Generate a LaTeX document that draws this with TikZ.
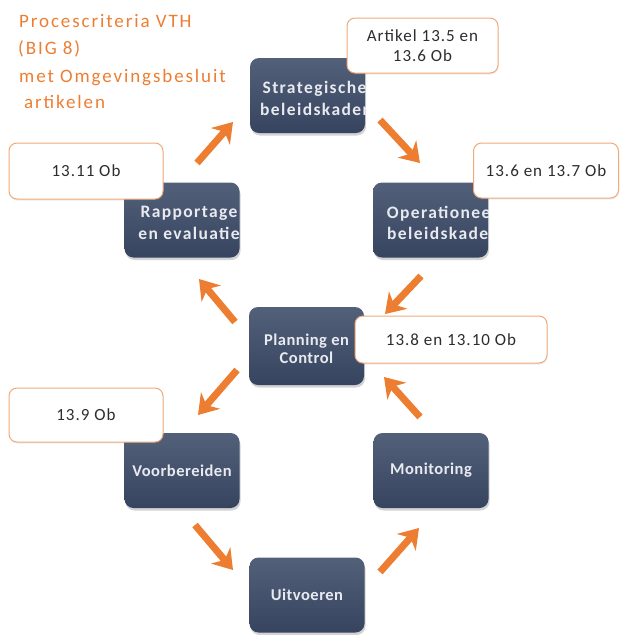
\documentclass[tikz,border=0pt]{standalone}
\usepackage{fontspec}
\setmainfont{Carlito}
\newfontfamily\titlefont[LetterSpace=10]{Carlito}
\newfontfamily\labelfont[LetterSpace=6]{Carlito}
\newfontfamily\boxfont[LetterSpace=3]{Carlito}
\newfontfamily\boxwidefont[LetterSpace=8]{Carlito}
\usetikzlibrary{arrows.meta,shadows}
\definecolor{vthorange}{RGB}{237,125,49}
\definecolor{boxtop}{RGB}{82,96,122}
\definecolor{boxbot}{RGB}{54,68,95}
\definecolor{boxtext}{RGB}{232,234,240}
\definecolor{labelborder}{RGB}{240,170,122}
\definecolor{labeltext}{RGB}{45,45,45}
\begin{document}
\begin{tikzpicture}[x=1pt,y=-1pt,
  darkbox/.style={rounded corners=9pt, minimum width=115pt, minimum height=75pt, inner sep=0pt,
    top color=boxtop, bottom color=boxbot, draw=none,
    drop shadow={shadow xshift=1pt, shadow yshift=-2.5pt, opacity=0.35}},
  boxlabel/.style={text=boxtext, align=center, inner sep=0pt,
    font=\boxfont\bfseries\fontsize{16.5}{18}\selectfont},
  widelabel/.style={boxlabel, font=\boxwidefont\bfseries\fontsize{17.5}{21.5}\selectfont},
  refbox/.style={rounded corners=8pt, fill=white, draw=labelborder, line width=1pt, inner sep=0pt,
    text=labeltext, align=center, font=\labelfont\fontsize{17}{20}\selectfont,
    drop shadow={shadow xshift=0.5pt, shadow yshift=-1.5pt, opacity=0.15}},
  flow/.style={draw=vthorange, line width=7pt, -{Stealth[length=19pt,width=25pt,inset=6pt]}},
  titleline/.style={anchor=base west, inner sep=0pt, text=vthorange,
    font=\titlefont\fontsize{19}{23}\selectfont},
]
\useasboundingbox (0,0) rectangle (621,635);

% title
\node[titleline] (t1) at (19,27) {Procescriteria VTH};
\node[titleline] (t2) at (18,54.5) {(BIG 8)};
\node[titleline] (t3) at (19,82) {met Omgevingsbesluit};
\node[titleline] (t4) at (24,108) {artikelen};

% process boxes
\node[darkbox] (strat) at (307.5,95.5) {};
\node[darkbox] (oper) at (430.5,220) {};
\node[darkbox] (rapp) at (182,220) {};
\node[darkbox, minimum height=78pt] (plan) at (306.5,346) {};
\node[darkbox] (voor) at (182,470.5) {};
\node[darkbox] (moni) at (431,470.5) {};
\node[darkbox] (uitv) at (307,595) {};

\begin{scope}
  \clip[rounded corners=9pt] (strat.south west) rectangle (strat.north east);
  \node[widelabel] (stratT) at ([xshift=7pt,yshift=-3pt]strat.center) {Strategische\\beleidskader};
\end{scope}
\begin{scope}
  \clip[rounded corners=9pt] (oper.south west) rectangle (oper.north east);
  \node[widelabel] (operT) at ([xshift=11pt,yshift=-3pt]oper.center) {Operationeel\\beleidskader};
\end{scope}
\begin{scope}
  \clip[rounded corners=9pt] (rapp.south west) rectangle (rapp.north east);
  \node[widelabel] (rappT) at ([xshift=7pt,yshift=-3pt]rapp.center) {Rapportage\\en evaluatie};
\end{scope}
\node[boxlabel] (planT) at ([yshift=-3pt]plan.center) {Planning en\\Control};
\node[boxlabel] (voorT) at (voor.center) {Voorbereiden};
\node[boxlabel] (moniT) at (moni.center) {Monitoring};
\node[boxlabel] (uitvT) at (uitv.center) {Uitvoeren};

% article labels
\node[refbox, minimum width=151pt, minimum height=55pt] (art) at (422.5,45.5) {Artikel 13.5 en\\13.6 Ob};
\node[refbox, minimum width=145pt, minimum height=55pt] (l1367) at (546,170.5) {13.6 en 13.7 Ob};
\node[refbox, minimum width=154pt, minimum height=56pt] (l1311) at (86,171) {13.11 Ob};
\node[refbox, minimum width=192pt, minimum height=47pt] (l1381) at (451,339.5) {13.8 en 13.10 Ob};
\node[refbox, minimum width=154pt, minimum height=54pt] (l139) at (86,415) {13.9 Ob};

% arrows
\coordinate (r2sA) at (197,163); \coordinate (r2sB) at (233,122);
\coordinate (s2oA) at (380,120); \coordinate (s2oB) at (420,163);
\coordinate (o2pA) at (421,276); \coordinate (o2pB) at (385,314);
\coordinate (m2pA) at (420,417); \coordinate (m2pB) at (384,377);
\coordinate (p2vA) at (237,370); \coordinate (p2vB) at (198,415);
\coordinate (p2rA) at (235,322); \coordinate (p2rB) at (199,279);
\coordinate (v2uA) at (195,525); \coordinate (v2uB) at (233,570);
\coordinate (u2mA) at (380,572); \coordinate (u2mB) at (419,528);
\draw[flow] (r2sA) -- (r2sB);
\draw[flow] (s2oA) -- (s2oB);
\draw[flow] (o2pA) -- (o2pB);
\draw[flow] (m2pA) -- (m2pB);
\draw[flow] (p2vA) -- (p2vB);
\draw[flow] (p2rA) -- (p2rB);
\draw[flow] (v2uA) -- (v2uB);
\draw[flow] (u2mA) -- (u2mB);
\end{tikzpicture}
\end{document}
